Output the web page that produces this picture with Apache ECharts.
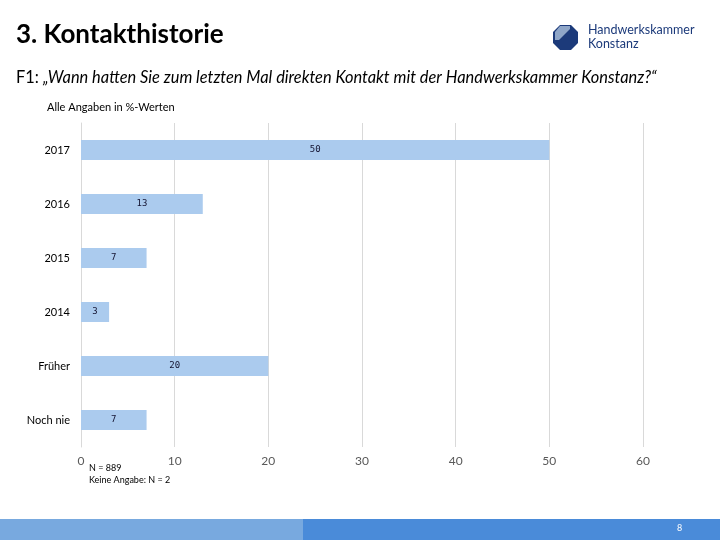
<!DOCTYPE html>
<html><head><meta charset="utf-8">
<script src="https://cdn.jsdelivr.net/npm/echarts@6/dist/echarts.min.js"></script>
<style>html,body{margin:0;padding:0;background:#fff}#c{width:720px;height:540px}</style>
</head><body><div id="c"></div>
<script>
const categories = ['2017', '2016', '2015', '2014', 'Früher', 'Noch nie'];
const values = [50, 13, 7, 3, 20, 7];
const xTicks = [0, 10, 20, 30, 40, 50, 60];

const chart = echarts.init(document.getElementById('c'), null, {renderer: 'canvas'});
const F = 'Lato, "Open Sans", sans-serif';
chart.setOption({
  animation: false,
  backgroundColor: '#fff',
  grid: {left: 81, right: 77, top: 123, bottom: 93},
  xAxis: {
    type: 'value', min: xTicks[0], max: xTicks[xTicks.length - 1], interval: 10,
    axisLine: {show: false}, axisTick: {show: false},
    splitLine: {show: true, lineStyle: {color: '#d9d9d9', width: 1}},
    axisLabel: {color: '#595959', fontSize: 12, fontFamily: F, margin: 8}
  },
  yAxis: {
    type: 'category', data: categories, inverse: true,
    axisLine: {show: true, lineStyle: {color: '#d9d9d9'}}, axisTick: {show: false},
    axisLabel: {color: '#000', fontSize: 11, fontFamily: F, margin: 11}
  },
  series: [{
    type: 'bar', data: values, barWidth: 20,
    itemStyle: {color: '#abcbee'},
    label: {show: true, position: 'inside', color: '#141432', fontSize: 9, fontFamily: '"DejaVu Sans Mono", monospace'}
  }],
  graphic: [
    {type: 'text', left: 16, top: 22, style: {text: '3. Kontakthistorie', font: 'bold 26px ' + F, fill: '#000'}},
    {type: 'text', left: 16, top: 70, style: {
      text: '{n|F1: }{i|„Wann hatten Sie zum letzten Mal direkten Kontakt mit der Handwerkskammer Konstanz?“}',
      rich: {
        n: {font: '16.4px ' + F, fill: '#000'},
        i: {font: 'italic 16.4px ' + F, fill: '#000'}
      }
    }},
    {type: 'text', left: 47, top: 102, style: {text: 'Alle Angaben in %-Werten', font: '11px ' + F, fill: '#000'}},
    {type: 'text', left: 89, top: 462, style: {text: 'N = 889\nKeine Angabe: N = 2', font: '9px ' + F, fill: '#000', lineHeight: 12}},
    {type: 'rect', shape: {x: 0, y: 519, width: 303, height: 21}, style: {fill: '#78a9df'}},
    {type: 'rect', shape: {x: 303, y: 519, width: 417, height: 21}, style: {fill: '#4a8bd9'}},
    {type: 'text', left: 677, top: 524, style: {text: '8', font: '9px ' + F, fill: '#fff'}},
    {type: 'polygon', shape: {points: [[560,25],[571,25],[578,32],[578,43],[571,50],[560,50],[553,43],[553,32]]}, style: {fill: '#1c3a7a'}},
    {type: 'polygon', shape: {points: [[560,26],[570,26],[570,29],[559,40],[555,40],[555,32]]}, style: {fill: '#8fa6c8'}},
    {type: 'text', left: 588, top: 23, style: {text: 'Handwerkskammer\nKonstanz', font: '12.5px ' + F, fill: '#1c3a7a', lineHeight: 14}}
  ]
});
</script></body></html>
